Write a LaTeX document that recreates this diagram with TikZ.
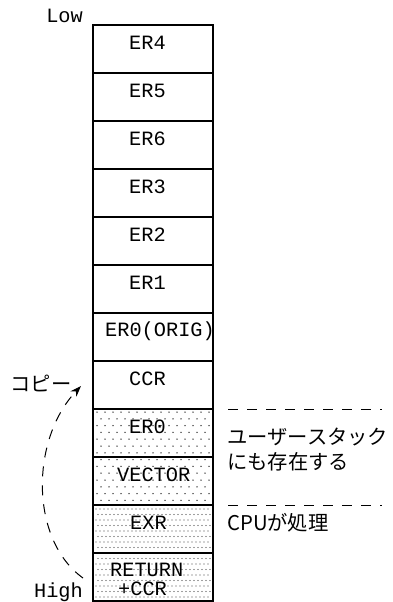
\documentclass[tikz,border=0pt]{standalone}
\usepackage{fontspec}
\setmonofont{Liberation Mono}
\newfontfamily\jpfont{Noto Sans CJK JP}
\usetikzlibrary{arrows.meta}
\begin{document}
\begin{tikzpicture}[x=1pt,y=-1pt,
  cell/.style={draw=black,line width=1.1pt,minimum width=120pt,minimum height=48pt,inner sep=0pt,outer sep=0pt,anchor=north west},
  reg/.style={font=\ttfamily\fontsize{20.3}{20}\selectfont,inner sep=0pt,anchor=west},
  jp/.style={font=\jpfont\fontsize{20.3}{25}\selectfont,inner sep=0pt,anchor=west,align=left},
  sep/.style={line width=1pt,dash pattern=on 10pt off 9pt}]
\useasboundingbox (0,0) rectangle (392,602);
% dotted fill: sparse in ER0 / VECTOR
\foreach \r in {0,...,13}{
  \pgfmathsetmacro{\yy}{412+\r*6.8}
  \pgfmathsetmacro{\off}{mod(\r,2)*4}
  \foreach \c in {0,...,14}{
    \fill[black!85] ({97+\off+\c*8},\yy) circle (0.75pt);
  }
}
% denser dots in EXR / RETURN
\foreach \r in {0,...,16}{
  \pgfmathsetmacro{\yy}{509+\r*5.5}
  \pgfmathsetmacro{\off}{mod(\r,2)*2}
  \foreach \c in {0,...,28}{
    \fill[black!75] ({96+\off+\c*4},\yy) circle (0.6pt);
  }
}
\node[cell] (b1) at (93,25) {};
\node[cell] (b2) at (93,73) {};
\node[cell] (b3) at (93,121) {};
\node[cell] (b4) at (93,169) {};
\node[cell] (b5) at (93,217) {};
\node[cell] (b6) at (93,265) {};
\node[cell] (b7) at (93,313) {};
\node[cell] (b8) at (93,361) {};
\node[cell] (b9) at (93,409) {};
\node[cell] (b10) at (93,457) {};
\node[cell] (b11) at (93,505) {};
\node[cell] (b12) at (93,553) {};
\node[reg] (t1) at (129,43) {ER4};
\node[reg] (t2) at (129,91) {ER5};
\node[reg] (t3) at (129,139) {ER6};
\node[reg] (t4) at (129,187) {ER3};
\node[reg] (t5) at (129,235) {ER2};
\node[reg] (t6) at (129,283) {ER1};
\node[reg] (t7) at (105,331) {ER0(ORIG)};
\node[reg] (t8) at (129,379) {CCR};
\node[reg] (t9) at (129,427) {ER0};
\node[reg] (t10) at (117,475) {VECTOR};
\node[reg] (t11) at (130,523) {EXR};
\node[reg] (t12a) at (110,570) {RETURN};
\node[reg] (t12b) at (118,589) {+CCR};
\node[reg,anchor=east] (low) at (83,16) {Low};
\node[reg,anchor=east] (high) at (83,592) {High};
% separators
\coordinate (s1a) at (228,409); \coordinate (s1b) at (382,409);
\coordinate (s2a) at (228,505); \coordinate (s2b) at (382,505);
\draw[sep] (s1a) -- (s1b);
\draw[sep] (s2a) -- (s2b);
\node[jp] (u1) at (227,450) {ユーザースタック\\にも存在する};
\node[jp] (u2) at (227,523) {CPUが処理};
\node[jp,anchor=center] (copy) at (41,383) {コピー};
% copy arrow
\coordinate (cs) at (83,578);
\coordinate (ce) at (81,386);
\draw[line width=1pt,dash pattern=on 10pt off 9pt,-{Stealth[length=11pt,width=8pt]}] (cs) .. controls (30,540) and (30,440) .. (ce);
\end{tikzpicture}
\end{document}
